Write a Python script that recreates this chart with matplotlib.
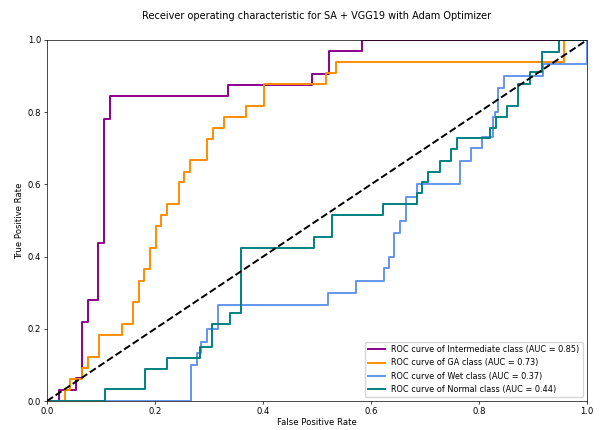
import matplotlib
matplotlib.use("Agg")
import matplotlib.pyplot as plt

# ROC curve corner points (false positive rate, true positive rate) per class
inter_fpr = [0.0, 0.022, 0.022, 0.054, 0.054, 0.064, 0.064, 0.075, 0.075, 0.095, 0.095,
             0.106, 0.106, 0.117, 0.117, 0.336, 0.336, 0.490, 0.490, 0.522, 0.522,
             0.584, 0.584, 1.0]
inter_tpr = [0.0, 0.0, 0.031, 0.031, 0.0625, 0.0625, 0.219, 0.219, 0.281, 0.281, 0.4375,
             0.4375, 0.781, 0.781, 0.844, 0.844, 0.875, 0.875, 0.906, 0.906, 0.969,
             0.969, 1.0, 1.0]

ga_fpr = [0.0, 0.033, 0.033, 0.043, 0.043, 0.065, 0.065, 0.075, 0.075, 0.097, 0.097,
          0.138, 0.138, 0.160, 0.160, 0.171, 0.171, 0.180, 0.180, 0.191, 0.191, 0.202,
          0.202, 0.212, 0.212, 0.223, 0.223, 0.244, 0.244, 0.254, 0.254, 0.265, 0.265,
          0.296, 0.296, 0.307, 0.307, 0.328, 0.328, 0.369, 0.369, 0.401, 0.401, 0.517,
          0.517, 0.536, 0.536, 0.957, 0.957, 1.0]
ga_tpr = [0.0, 0.0, 0.030, 0.030, 0.060, 0.060, 0.091, 0.091, 0.121, 0.121, 0.183,
          0.183, 0.212, 0.212, 0.273, 0.273, 0.332, 0.332, 0.365, 0.365, 0.425, 0.425,
          0.485, 0.485, 0.515, 0.515, 0.545, 0.545, 0.606, 0.606, 0.635, 0.635, 0.668,
          0.668, 0.726, 0.726, 0.756, 0.756, 0.787, 0.787, 0.817, 0.817, 0.877, 0.877,
          0.909, 0.909, 0.940, 0.940, 1.0, 1.0]

wet_fpr = [0.0, 0.266, 0.266, 0.277, 0.277, 0.286, 0.286, 0.297, 0.297, 0.317, 0.317,
           0.521, 0.521, 0.572, 0.572, 0.624, 0.624, 0.633, 0.633, 0.643, 0.643, 0.654,
           0.654, 0.664, 0.664, 0.685, 0.685, 0.765, 0.765, 0.785, 0.785, 0.805, 0.805,
           0.825, 0.825, 0.830, 0.830, 0.836, 0.836, 0.846, 0.846, 0.919, 0.919, 1.0, 1.0]
wet_tpr = [0.0, 0.0, 0.100, 0.100, 0.132, 0.132, 0.164, 0.164, 0.199, 0.199, 0.266,
           0.266, 0.299, 0.299, 0.333, 0.333, 0.368, 0.368, 0.400, 0.400, 0.466, 0.466,
           0.499, 0.499, 0.566, 0.566, 0.600, 0.600, 0.666, 0.666, 0.700, 0.700, 0.730,
           0.730, 0.786, 0.786, 0.800, 0.800, 0.866, 0.866, 0.900, 0.900, 0.934, 0.934, 1.0]

normal_fpr = [0.0, 0.107, 0.107, 0.181, 0.181, 0.223, 0.223, 0.283, 0.283, 0.306, 0.306,
              0.339, 0.339, 0.359, 0.359, 0.495, 0.495, 0.528, 0.528, 0.622, 0.622, 0.685,
              0.685, 0.695, 0.695, 0.706, 0.706, 0.727, 0.727, 0.748, 0.748, 0.759, 0.759,
              0.820, 0.820, 0.831, 0.831, 0.851, 0.851, 0.872, 0.872, 0.894, 0.894, 0.916,
              0.916, 0.948, 0.948, 1.0]
normal_tpr = [0.0, 0.0, 0.032, 0.032, 0.089, 0.089, 0.120, 0.120, 0.150, 0.150, 0.213,
              0.213, 0.243, 0.243, 0.424, 0.424, 0.454, 0.454, 0.515, 0.515, 0.546, 0.546,
              0.575, 0.575, 0.606, 0.606, 0.635, 0.635, 0.666, 0.666, 0.697, 0.697, 0.728,
              0.728, 0.757, 0.757, 0.788, 0.788, 0.817, 0.817, 0.878, 0.878, 0.910, 0.910,
              0.968, 0.968, 1.0, 1.0]

class_names = ["Intermediate", "GA", "Wet", "Normal"]
auc_values = [0.85, 0.73, 0.37, 0.44]
colors = ["darkmagenta", "darkorange", "cornflowerblue", "teal"]

curves = [(inter_fpr, inter_tpr), (ga_fpr, ga_tpr), (wet_fpr, wet_tpr),
          (normal_fpr, normal_tpr)]

plt.rcParams["font.family"] = "DejaVu Sans"
fig = plt.figure(figsize=(6.08, 4.30), dpi=100)
ax = fig.add_axes([0.0773, 0.0674, 0.8882, 0.8396])

for (fpr, tpr), name, auc, color in zip(curves, class_names, auc_values, colors):
    ax.plot(fpr, tpr, color=color, lw=1.4,
            label=f"ROC curve of {name} class (AUC = {auc:.2f})")

ax.plot([0, 1], [0, 1], "k--", lw=1.4)
ax.set_xlim(0.0, 1.0)
ax.set_ylim(0.0, 1.0)
ax.tick_params(labelsize=6.1, length=2.1, width=0.5, pad=2)
for s in ax.spines.values():
    s.set_linewidth(0.5)
ax.set_xlabel("False Positive Rate", fontsize=6.1, labelpad=2)
ax.set_ylabel("True Positive Rate", fontsize=6.1, labelpad=3)
ax.set_title("Receiver operating characteristic for SA + VGG19 with Adam Optimizer",
             fontsize=7.0, pad=15)
ax.legend(loc="lower right", fontsize=5.9, handlelength=2.0, borderpad=0.4,
          labelspacing=0.5, framealpha=0.8)

fig.savefig("out.png", dpi=100)
